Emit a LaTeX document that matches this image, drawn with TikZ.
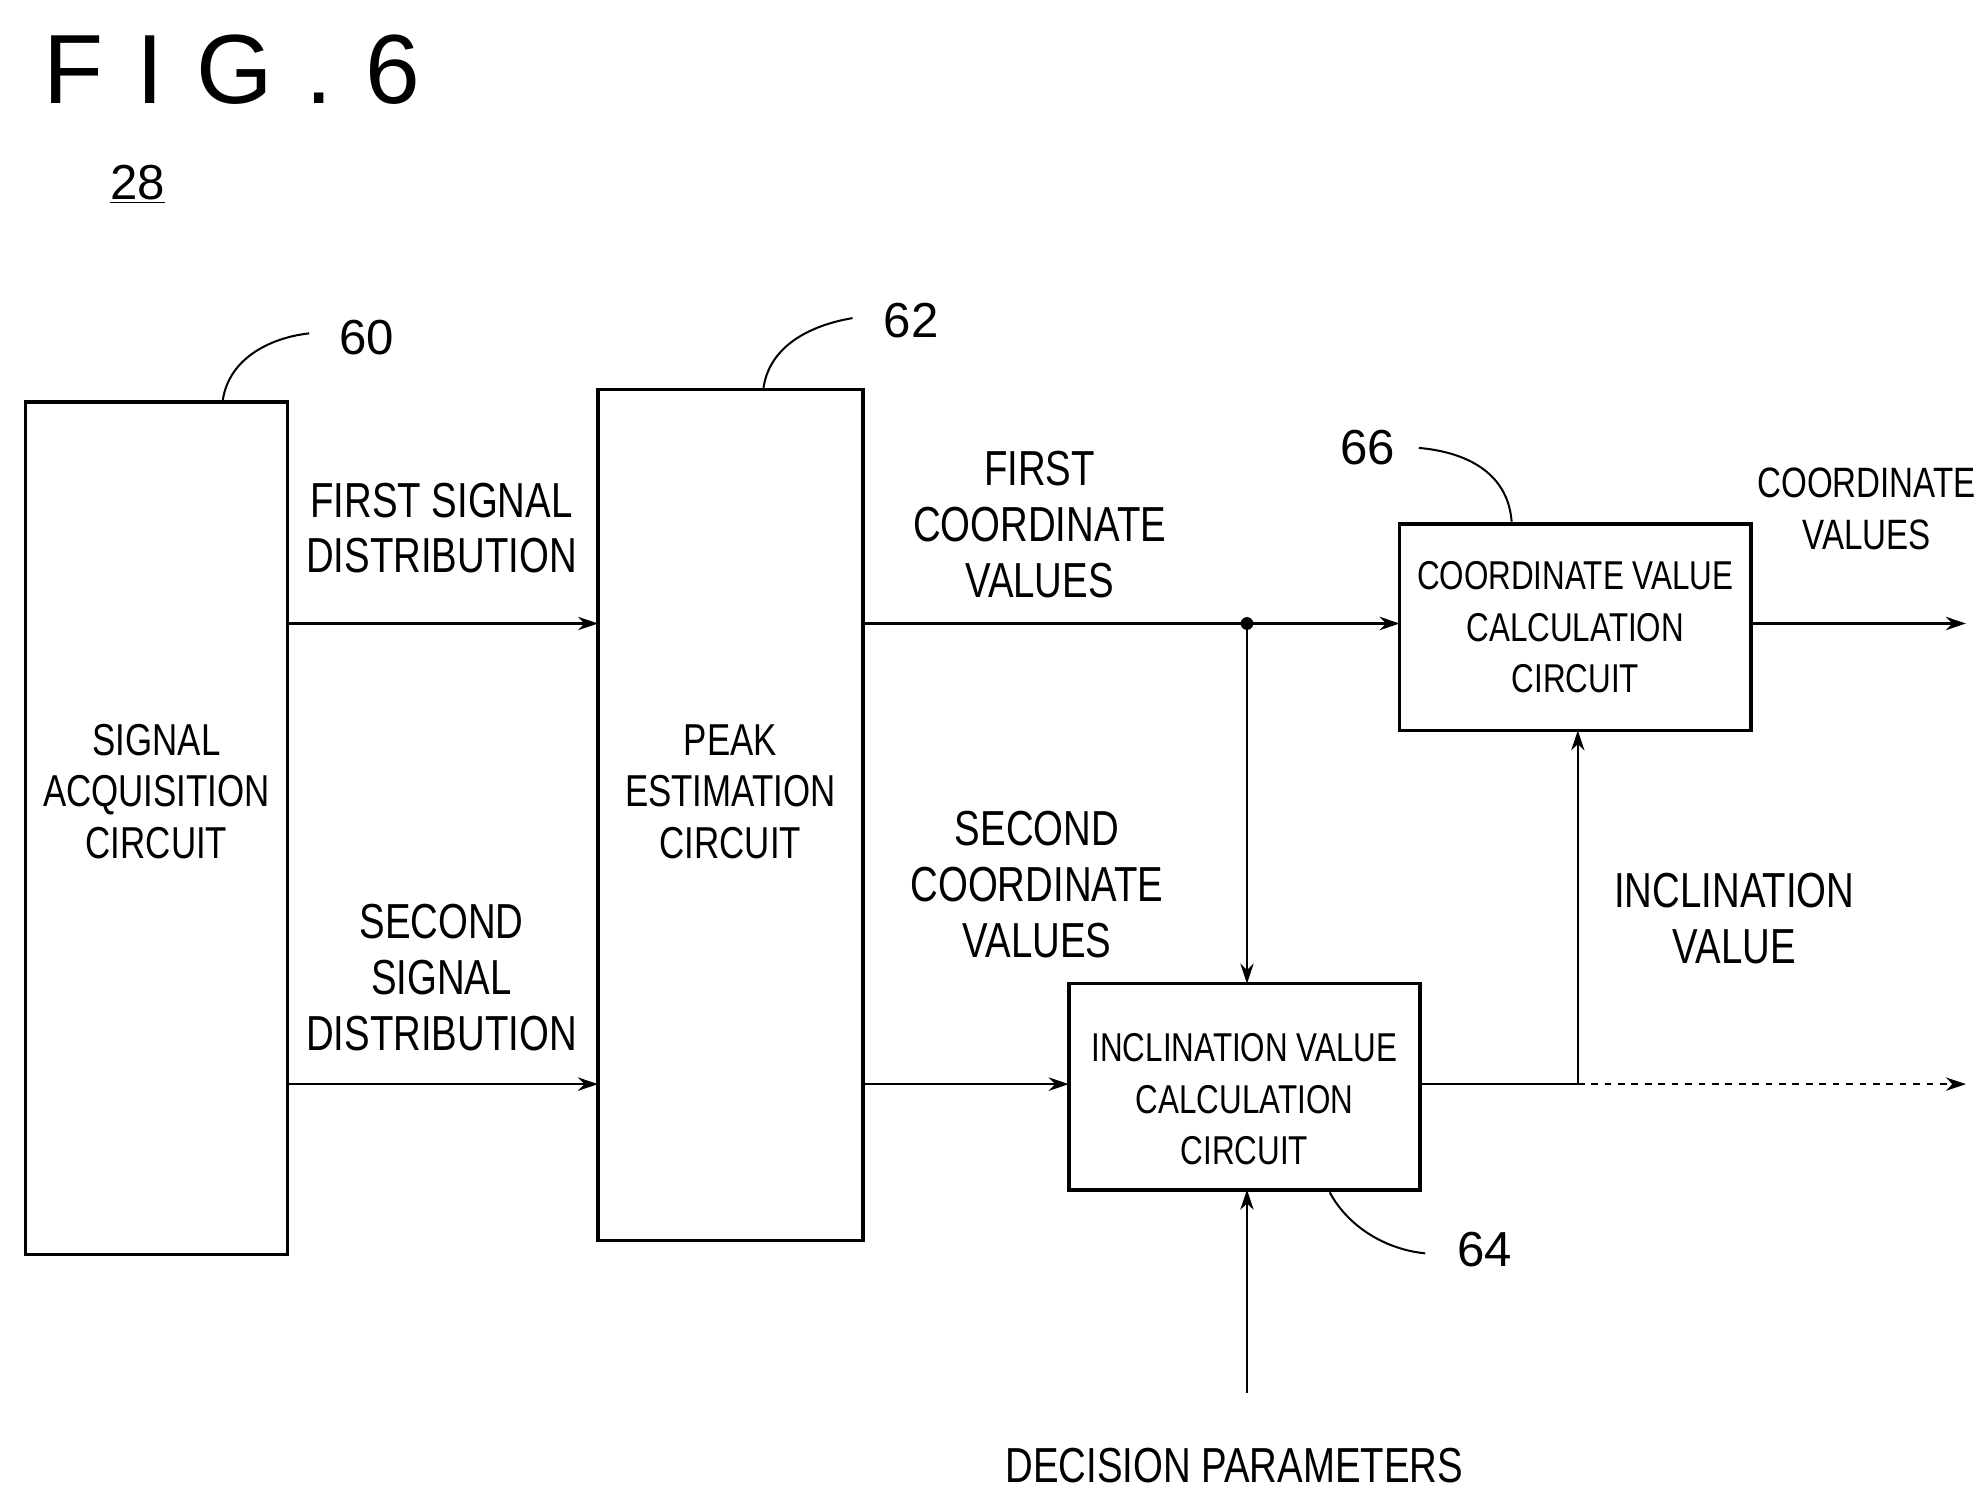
\documentclass[tikz,border=0pt]{standalone}
\usepackage{fontspec}
\usetikzlibrary{arrows.meta}
\setmainfont{Liberation Sans}[FakeStretch=0.78]
\newfontfamily\figfont{Liberation Sans}
\begin{document}
\begin{tikzpicture}[x=0.02cm,y=-0.02cm,
  box/.style={draw,line width=1.6pt,inner sep=0},
  lab/.style={align=center,font=\fontsize{22}{25}\selectfont},
  blab/.style={align=center,font=\fontsize{20}{23}\selectfont},
  num/.style={font=\figfont\fontsize{22}{24}\selectfont},
  arr/.style={-{Stealth[length=9pt,width=6pt]},line width=0.9pt},
  lead/.style={line width=0.9pt}]
\useasboundingbox (0,0) rectangle (1560,1180);
\node[font=\figfont\fontsize{44}{48}\selectfont,anchor=west] (fig) at (28,55) {F\,\,I\,\,G\,\,.\,\,6};
\node[num] (n28) at (108,145) {\underline{28}};
% boxes
\draw[box] (20,316) rectangle (226,986);
\node[blab] (sac) at (123,622) {SIGNAL\\ACQUISITION\\CIRCUIT};
\draw[box] (470,306) rectangle (678,975);
\node[blab] (pec) at (574,622) {PEAK\\ESTIMATION\\CIRCUIT};
\draw[box] (1100,412) rectangle (1376,574);
\node[blab,font=\fontsize{18}{23}\selectfont] (cvc) at (1238,493) {COORDINATE VALUE\\CALCULATION\\CIRCUIT};
\draw[box] (840,773) rectangle (1116,935);
\node[blab,font=\fontsize{18}{23}\selectfont] (ivc) at (978,864) {INCLINATION VALUE\\CALCULATION\\CIRCUIT};
% coordinates
\coordinate (a1) at (226,490); \coordinate (a2) at (470,490);
\coordinate (b1) at (226,852); \coordinate (b2) at (470,852);
\coordinate (c1) at (678,490); \coordinate (dot) at (980,490); \coordinate (c2) at (1100,490);
\coordinate (d1) at (678,852); \coordinate (d2) at (840,852);
\coordinate (it) at (980,773);
\coordinate (e1) at (1116,852); \coordinate (br) at (1240,852); \coordinate (e2) at (1545,852);
\coordinate (cb) at (1240,574);
\coordinate (f1) at (1376,490); \coordinate (f2) at (1545,490);
\coordinate (g1) at (980,1095); \coordinate (g2) at (980,935);
\draw[arr] (a1) -- (a2);
\draw[arr] (b1) -- (b2);
\draw[arr] (c1) -- (c2);
\fill (dot) circle (5);
\draw[arr] (dot) -- (it);
\draw[arr] (d1) -- (d2);
\draw[lead] (e1) -- (br);
\draw[arr,dashed] (br) -- (e2);
\draw[arr] (br) -- (cb);
\draw[arr] (f1) -- (f2);
\draw[arr] (g1) -- (g2);
% labels
\node[lab] (l1) at (347,415) {FIRST SIGNAL\\DISTRIBUTION};
\node[lab] (l2) at (347,768) {SECOND\\SIGNAL\\DISTRIBUTION};
\node[lab] (l3) at (817,412) {FIRST\\COORDINATE\\VALUES};
\node[lab] (l4) at (815,695) {SECOND\\COORDINATE\\VALUES};
\node[lab,font=\fontsize{19}{23}\selectfont] (l5) at (1467,400) {COORDINATE\\VALUES};
\node[lab] (l6) at (1363,722) {INCLINATION\\VALUE};
\node[lab] (l7) at (970,1152) {DECISION PARAMETERS};
% reference numerals
\node[num] (n60) at (288,265) {60};
\draw[lead] (175,315) .. controls (180,280) and (215,265) .. (243,262);
\node[num] (n62) at (716,252) {62};
\draw[lead] (600,305) .. controls (605,270) and (640,255) .. (670,250);
\node[num] (n66) at (1075,352) {66};
\draw[lead] (1115,352) .. controls (1150,355) and (1185,370) .. (1188,410);
\node[num] (n64) at (1167,982) {64};
\draw[lead] (1045,937) .. controls (1060,965) and (1090,982) .. (1120,985);
\end{tikzpicture}
\end{document}
